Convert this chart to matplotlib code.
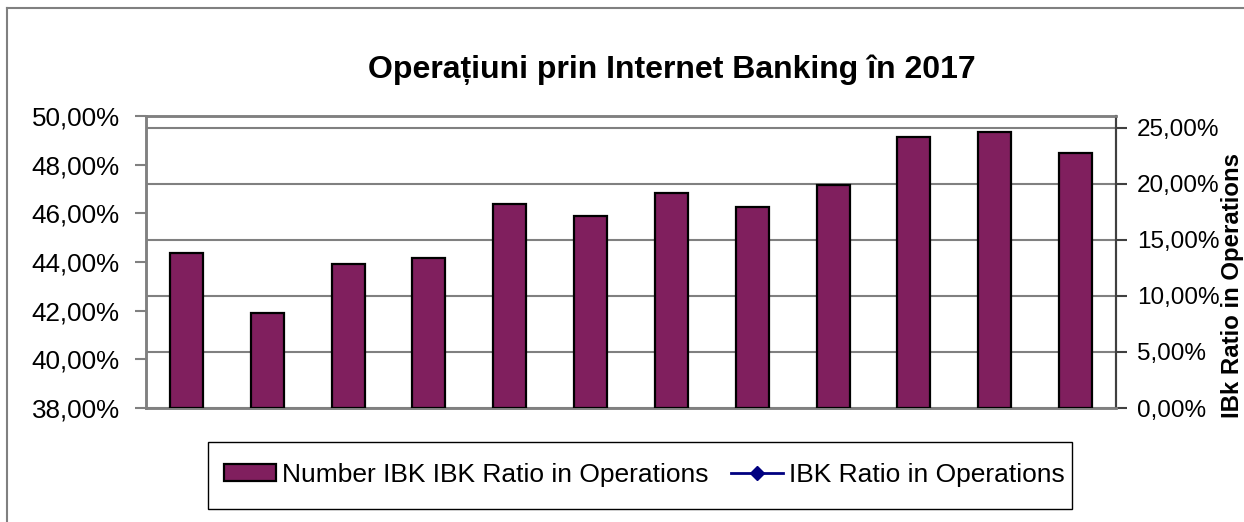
import matplotlib
matplotlib.use("Agg")
import matplotlib.pyplot as plt
from matplotlib.lines import Line2D
from matplotlib.patches import Patch, Rectangle
from matplotlib.ticker import FuncFormatter, MultipleLocator

plt.rcParams['font.family'] = ['Liberation Sans', 'DejaVu Sans']

# Monthly share of operations done through Internet Banking, 2017 (percent)
months = ["Ian", "Feb", "Mar", "Apr", "Mai", "Iun",
          "Iul", "Aug", "Sep", "Oct", "Noi", "Dec"]
ibk_ratio = [44.37, 41.89, 43.91, 44.16, 46.37, 45.90,
             46.85, 46.25, 47.15, 49.13, 49.36, 48.47]

title = "Operațiuni prin Internet Banking în 2017"
bar_label = "Number IBK IBK Ratio in Operations"
line_label = "IBK Ratio in Operations"
right_axis_label = "IBk Ratio in Operations"

left_min, left_max, left_step = 38, 50, 2
right_min, right_max, right_step = 0, 26.07, 5

bar_color = "#801F5E"
plot_bg = "#C0C0C0"
grid_color = "#808080"
line_color = "#000080"

W, H = 1244, 522
fig = plt.figure(figsize=(W / 100, H / 100), dpi=100)

# plot area in pixels
px_left, px_right, px_top, px_bottom = 146, 1116, 116, 408
ax = fig.add_axes([px_left / W, 1 - px_bottom / H,
                   (px_right - px_left) / W, (px_bottom - px_top) / H])
ax_r = ax.twinx()

# secondary axis sits underneath and carries background and gridlines
ax_r.set_zorder(0)
ax.set_zorder(1)
ax.patch.set_visible(False)
ax_r.set_facecolor(plot_bg)
ax_r.set_ylim(right_min, right_max)
ax_r.yaxis.set_major_locator(MultipleLocator(right_step))
ax_r.grid(axis='y', color=grid_color, linewidth=1.5)
ax_r.set_axisbelow(True)

x = list(range(len(months)))
heights = [v - left_min for v in ibk_ratio]
ax.bar(x, heights, bottom=left_min, width=0.41, color=bar_color,
       edgecolor="black", linewidth=1.6, zorder=3)

ax.set_xlim(-0.5, len(months) - 0.5)
ax.set_ylim(left_min, left_max)
ax.yaxis.set_major_locator(MultipleLocator(left_step))
ax.set_xticks([])
ax_r.set_xticks([])

pct = FuncFormatter(lambda v, _: f"{v:.2f}%".replace(".", ","))
ax.yaxis.set_major_formatter(pct)
ax_r.yaxis.set_major_formatter(pct)

ax.tick_params(axis='y', direction='out', length=8, width=1.5,
               color=grid_color, labelsize=18.7, pad=11, labelcolor='black')
ax_r.tick_params(axis='y', direction='out', length=8, width=1.5,
                 color='#404040', labelsize=17.5, pad=7, labelcolor='black')

for a in (ax, ax_r):
    for side in ('left', 'bottom', 'top'):
        a.spines[side].set_color(grid_color)
        a.spines[side].set_linewidth(1.8)
    a.spines['right'].set_color('#404040')
    a.spines['right'].set_linewidth(1.5)

ax_r.set_ylabel(right_axis_label, fontsize=17.3, fontweight='bold')
ax_r.yaxis.set_label_coords((1233 - px_left) / (px_right - px_left),
                            (px_bottom - 285) / (px_bottom - px_top))
ax_r.yaxis.label.set_va('center')
ax_r.yaxis.label.set_ha('center')

fig.text(672 / W, 1 - 78 / H, title, fontsize=23, fontweight='bold',
         ha='center', va='baseline')

handles = [
    Patch(facecolor=bar_color, edgecolor='black', linewidth=1.6, label=bar_label),
    Line2D([], [], color=line_color, linewidth=2, marker='D', markersize=7,
           markerfacecolor=line_color, markeredgecolor=line_color, label=line_label),
]
leg = fig.legend(handles=handles, loc='center', bbox_to_anchor=(644 / W, 1 - 475 / H),
                 ncol=2, fontsize=19, frameon=False,
                 handlelength=1.97, handleheight=0.58, handletextpad=0.23,
                 columnspacing=0.85, borderpad=0.6, borderaxespad=0)

# legend box
fig.add_artist(Rectangle((208 / W, 1 - 509 / H), (1072 - 208) / W, (509 - 442) / H,
                         transform=fig.transFigure, facecolor='none',
                         edgecolor='black', linewidth=1.0))

# outer chart frame (left and top edges fall inside the image)
fig.add_artist(Line2D([7 / W, 7 / W], [0, 1 - 8 / H], color=grid_color, linewidth=1.5))
fig.add_artist(Line2D([7 / W, 1], [1 - 8 / H, 1 - 8 / H], color=grid_color, linewidth=1.5))

fig.savefig("out.png", dpi=100)
